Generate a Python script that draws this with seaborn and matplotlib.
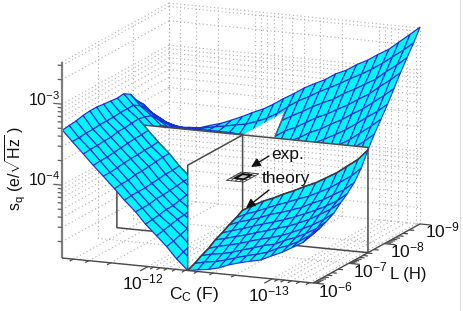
import numpy as np
import matplotlib
matplotlib.use("Agg")
import matplotlib.pyplot as plt
import seaborn as sns
from matplotlib.path import Path
from mpl_toolkits.mplot3d import proj3d
from mpl_toolkits.mplot3d.art3d import Line3DCollection, Poly3DCollection

# ---------- data (all log10) ----------
log_Cc = [-11.31, -11.39, -11.48, -11.56, -11.64, -11.73, -11.81, -11.90, -11.98, -12.07, -12.15, -12.23, -12.32,
          -12.40, -12.49, -12.57, -12.65, -12.74, -12.82, -12.91, -12.99, -13.08, -13.16, -13.25, -13.33]
log_L = [-6.00, -6.19, -6.385, -6.58, -6.77, -6.96, -7.155, -7.35, -7.54,
         -7.72, -7.905, -8.09, -8.27, -8.45, -8.635, -8.82, -9.00]
log_sq = [
 [-3.32,-3.45,-3.59,-3.72,-3.84,-3.98,-4.11,-4.24,-4.38,-4.51,-4.63,-4.77,-4.90,-4.88,-4.86,-4.83,-4.78,-4.74,-4.71,-4.68,-4.62,-4.56,-4.49,-4.41,-4.30],
 [-3.31,-3.45,-3.58,-3.71,-3.84,-3.97,-4.10,-4.24,-4.37,-4.49,-4.61,-4.73,-4.86,-4.83,-4.81,-4.78,-4.74,-4.70,-4.67,-4.63,-4.57,-4.52,-4.46,-4.37,-4.27],
 [-3.30,-3.44,-3.58,-3.71,-3.83,-3.97,-4.10,-4.24,-4.36,-4.47,-4.58,-4.70,-4.81,-4.78,-4.76,-4.73,-4.69,-4.65,-4.61,-4.58,-4.52,-4.47,-4.41,-4.33,-4.23],
 [-3.28,-3.44,-3.57,-3.70,-3.82,-3.95,-4.10,-4.22,-4.34,-4.45,-4.55,-4.66,-4.77,-4.73,-4.70,-4.67,-4.63,-4.59,-4.56,-4.52,-4.47,-4.41,-4.35,-4.27,-4.18],
 [-3.27,-3.43,-3.57,-3.69,-3.81,-3.95,-4.09,-4.22,-4.34,-4.44,-4.53,-4.64,-4.71,-4.68,-4.64,-4.61,-4.57,-4.53,-4.49,-4.45,-4.40,-4.34,-4.27,-4.19,-4.10],
 [-3.27,-3.43,-3.55,-3.68,-3.81,-3.94,-4.08,-4.21,-4.32,-4.42,-4.51,-4.59,-4.67,-4.63,-4.59,-4.55,-4.51,-4.47,-4.43,-4.38,-4.33,-4.27,-4.21,-4.13,-4.03],
 [-3.28,-3.43,-3.55,-3.67,-3.80,-3.93,-4.07,-4.20,-4.30,-4.39,-4.47,-4.55,-4.62,-4.57,-4.53,-4.49,-4.44,-4.40,-4.36,-4.31,-4.25,-4.19,-4.12,-4.04,-3.94],
 [-3.29,-3.42,-3.54,-3.67,-3.80,-3.92,-4.07,-4.19,-4.30,-4.38,-4.46,-4.53,-4.58,-4.52,-4.47,-4.42,-4.37,-4.32,-4.27,-4.22,-4.16,-4.09,-4.01,-3.92,-3.81],
 [-3.30,-3.42,-3.53,-3.66,-3.79,-3.92,-4.06,-4.19,-4.28,-4.37,-4.43,-4.49,-4.53,-4.46,-4.39,-4.34,-4.28,-4.22,-4.16,-4.10,-4.03,-3.95,-3.86,-3.76,-3.63],
 [-3.29,-3.42,-3.55,-3.67,-3.79,-3.90,-4.03,-4.14,-4.23,-4.30,-4.35,-4.39,-4.40,-4.32,-4.26,-4.20,-4.13,-4.06,-4.00,-3.93,-3.85,-3.77,-3.68,-3.58,-3.48],
 [-3.34,-3.47,-3.58,-3.69,-3.79,-3.90,-4.00,-4.09,-4.17,-4.23,-4.26,-4.28,-4.26,-4.19,-4.12,-4.05,-3.99,-3.93,-3.86,-3.79,-3.71,-3.63,-3.54,-3.44,-3.34],
 [-3.46,-3.56,-3.67,-3.75,-3.82,-3.90,-3.97,-4.04,-4.10,-4.14,-4.15,-4.15,-4.11,-4.03,-3.97,-3.90,-3.83,-3.77,-3.71,-3.64,-3.57,-3.48,-3.39,-3.30,-3.20],
 [-3.55,-3.66,-3.75,-3.81,-3.85,-3.90,-3.95,-4.00,-4.04,-4.07,-4.06,-4.04,-3.97,-3.90,-3.83,-3.77,-3.70,-3.64,-3.57,-3.50,-3.42,-3.34,-3.25,-3.15,-3.05],
 [-3.68,-3.75,-3.83,-3.86,-3.88,-3.91,-3.93,-3.95,-3.98,-3.98,-3.96,-3.92,-3.84,-3.76,-3.70,-3.63,-3.56,-3.50,-3.43,-3.36,-3.28,-3.20,-3.10,-3.00,-2.90],
 [-3.79,-3.85,-3.89,-3.91,-3.90,-3.90,-3.90,-3.90,-3.91,-3.90,-3.86,-3.79,-3.69,-3.62,-3.55,-3.48,-3.42,-3.36,-3.28,-3.21,-3.14,-3.06,-2.96,-2.86,-2.76],
 [-3.89,-3.93,-3.95,-3.95,-3.93,-3.90,-3.88,-3.85,-3.83,-3.78,-3.73,-3.66,-3.56,-3.48,-3.41,-3.34,-3.28,-3.21,-3.14,-3.07,-3.00,-2.91,-2.82,-2.72,-2.62],
 [-3.99,-4.00,-3.99,-3.98,-3.94,-3.90,-3.85,-3.79,-3.73,-3.67,-3.60,-3.52,-3.44,-3.36,-3.29,-3.23,-3.15,-3.09,-3.01,-2.94,-2.86,-2.78,-2.68,-2.57,-2.47],
]
exp_log_Cc = [-12.39, -12.355, -12.32, -12.285, -12.25]
exp_log_L = [-7.33, -7.435, -7.54, -7.645, -7.75]
exp_log_sq = [[-4.12, -4.12, -4.12, -4.12, -4.12],
              [-4.12, -4.11, -4.11, -4.11, -4.12],
              [-4.12, -4.11, -4.11, -4.11, -4.12],
              [-4.12, -4.11, -4.11, -4.11, -4.12],
              [-4.12, -4.12, -4.12, -4.12, -4.12]]
slice_Cc = -12.32       # plane of constant Cc
slice_L = -7.54         # plane of constant L
slice_sq = -3.60        # height of both planes
Cc_major = [-12, -13]
L_major = [-6, -7, -8, -9]
sq_major = [-3, -4]
Cc_lim = (-11.307, -13.33)
L_lim = (-6.0, -9.0)
sq_lim = (-4.90, -2.48)
mult = [2, 3, 4, 5, 6, 7, 8, 9]

# ---------- style ----------
sns.set_theme(style="white")
plt.rcParams["font.family"] = ["Liberation Sans", "DejaVu Sans"]
plt.rcParams["mathtext.fontset"] = "custom"
plt.rcParams["mathtext.rm"] = "Liberation Sans"
plt.rcParams["mathtext.it"] = "Liberation Sans"
plt.rcParams["mathtext.bf"] = "Liberation Sans"
plt.rcParams["mathtext.default"] = "regular"

CYAN, MESH, DOT = "#00f6ff", "#1a2fcf", "#aeaeae"
DARK = "#4a4a4a"
W, H = 463, 311

fig = plt.figure(figsize=(W / 100, H / 100), dpi=100, facecolor="white")
ax = fig.add_axes([-0.1, -0.3, 1.2, 1.6], projection="3d", computed_zorder=False)
ax.set_proj_type("ortho")
ax.view_init(elev=13.55, azim=-67)
ax.set_xlim(*Cc_lim, view_margin=0)
ax.set_ylim(*L_lim, view_margin=0)
ax.set_zlim(*sq_lim, view_margin=0)
ax.set_axis_off()
ax.patch.set_alpha(0)
aspect = (272.8, 273.7, 201.6)


def screen(x, y, z):
    X, Y, _ = proj3d.proj_transform(x, y, z, ax.get_proj())
    return ax.transData.transform((X, Y))


# fit the projected box on the figure
ax.set_box_aspect(aspect, zoom=1.0)
ax.apply_aspect()
p0 = screen(Cc_lim[0], L_lim[0], sq_lim[0])
p1 = screen(Cc_lim[1], L_lim[1], sq_lim[1])
ax.set_box_aspect(aspect, zoom=(420 - 62) / (p1[0] - p0[0]))
ax.apply_aspect()
p0 = screen(Cc_lim[0], L_lim[0], sq_lim[0])
pos = ax.get_position(original=True)
ax.set_position([pos.x0 + (62 - p0[0]) / W, pos.y0 + ((H - 258) - p0[1]) / H, pos.width, pos.height])
ax.apply_aspect()


def data_path(verts):
    pts = []
    for v in verts:
        X, Y, _ = proj3d.proj_transform(*v, ax.get_proj())
        pts.append((X, Y))
    pts.append(pts[0])
    return Path(pts, closed=True)


# ---------- tick positions ----------
def minor_and_major(decades, lo, hi):
    out = []
    for d in decades:
        for m in [1] + mult:
            v = d + np.log10(m)
            if lo - 1e-9 <= v <= hi + 1e-9:
                out.append(v)
    return out


Cc_ticks = minor_and_major([-14, -13, -12], Cc_lim[1], Cc_lim[0])
L_ticks = minor_and_major([-9, -8, -7, -6], L_lim[1], L_lim[0])
sq_ticks = minor_and_major([-5, -4, -3], sq_lim[0], sq_lim[1])

c0, c1 = Cc_lim
l0, l1 = L_lim
z0, z1 = sq_lim
segs = []
for c in Cc_ticks:
    segs.append([(c, l1, z0), (c, l1, z1)])
    segs.append([(c, l0, z0), (c, l1, z0)])
for z in sq_ticks:
    segs.append([(c0, l1, z), (c1, l1, z)])
    segs.append([(c0, l0, z), (c0, l1, z)])
for l in L_major:
    segs.append([(c0, l, z0), (c0, l, z1)])
    segs.append([(c0, l, z0), (c1, l, z0)])
segs += [[(c0, l0, z1), (c0, l1, z1)], [(c0, l1, z1), (c1, l1, z1)],
         [(c0, l1, z0), (c0, l1, z1)], [(c1, l1, z0), (c1, l1, z1)]]


def grid_layer(zorder, clip=None):
    col = Line3DCollection(segs, colors=DOT, linewidths=0.8, linestyles=[(0, (1, 2.4))], zorder=zorder)
    ax.add_collection3d(col, autolim=False)
    if clip is not None:
        col.set_clip_path(clip, ax.transData)
    return col


def plane(verts, zorder):
    col = Poly3DCollection([verts], facecolors="white", edgecolors="none", zorder=zorder)
    ax.add_collection3d(col, autolim=False)


def edge(pts, zorder, color=DARK, lw=1.1):
    xs, ys, zs = zip(*pts)
    ax.plot(xs, ys, zs, color=color, lw=lw, zorder=zorder, solid_capstyle="butt")


def surface(r0, r1, k0, k1, zorder):
    ax.plot_surface(CC[r0:r1, k0:k1], LL[r0:r1, k0:k1], SQ[r0:r1, k0:k1], rstride=1, cstride=1,
                    color=CYAN, edgecolor=MESH, linewidth=0.85, shade=False, zorder=zorder)


CC, LL = np.meshgrid(log_Cc, log_L)
SQ = np.array(log_sq)
ir = log_L.index(slice_L)
ic = log_Cc.index(slice_Cc)
n_r, n_c = SQ.shape
cs, ls, zs = slice_Cc, slice_L, slice_sq

# background grid
grid_layer(1)

# back part of the surface and planes
surface(ir, n_r, 0, ic + 1, 3)
plane([(cs, ls, z0), (cs, -8.73, z0), (cs, -8.73, zs), (cs, ls, zs)], 4)
surface(ir, n_r, ic, n_c, 5)
edge([(cs, log_L[i], SQ[i, ic]) for i in range(ir, ir + 7)] + [(cs, -8.73, zs)], 5.5, color="#2f6f6a", lw=0.9)

# plane of constant L
plane([(c0, ls, z0), (c1, ls, z0), (c1, ls, zs), (c0, ls, zs)], 6)
grid_layer(7, data_path([(c0, ls, z0), (-11.87, ls, z0), (cs, l0, z0), (cs, ls, z0), (c1, ls, z0), (c1, ls, zs),
                         (-12.58, ls, zs), (cs, -8.45, -3.85), (cs, -8.73, zs), (cs, ls, zs), (c0, ls, zs)]))
edge([(c0, ls, zs), (c0, ls, z0), (c1, ls, z0), (c1, ls, zs), (c0, ls, zs)], 8)

# front left of the surface
surface(0, ir + 1, 0, ic + 1, 9)
edge([(log_Cc[k], ls, SQ[ir, k]) for k in range(2, ic + 1)], 9.5, color="#2f6f6a", lw=0.9)

# plane of constant Cc
plane([(cs, l0, z0), (cs, ls, z0), (cs, ls, zs), (cs, l0, zs)], 10)
grid_layer(11, data_path([(cs, l0, z0), (cs, ls, z0), (cs, ls, zs), (cs, l0, zs)]))
edge([(cs, l0, z0), (cs, l0, zs), (cs, ls, zs), (cs, ls, z0)], 12)

# measured point cloud
EC, EL = np.meshgrid(exp_log_Cc, exp_log_L)
ES = np.array(exp_log_sq)
ax.plot_wireframe(EC, EL, ES, rstride=1, cstride=1, color="#333333", linewidth=0.6, zorder=13)
ax.plot_surface(EC[1:4, 1:4], EL[1:4, 1:4], ES[1:4, 1:4], rstride=2, cstride=2, color="#cccccc",
                edgecolor="#111111", linewidth=1.3, shade=False, zorder=14)

# front right of the surface
surface(0, ir + 1, ic, n_c, 15)
edge([(cs, log_L[i], SQ[i, ic]) for i in range(0, ir + 1)]
     + [(log_Cc[k], ls, SQ[ir, k]) for k in range(ic, n_c)], 16, color="#3a3a3a", lw=1.1)

# axes
edge([(c0, l0, z0), (c0, l0, z1)], 20, color="#808080", lw=1.6)
edge([(c0, l0, z0), (c1, l0, z0)], 20, color=DARK, lw=1.0)
edge([(c1, l0, z0), (c1, l1, z0)], 20, color=DARK, lw=1.0)
for z in sq_ticks:
    d = 0.07 if round(z, 6) in sq_major else 0.035
    edge([(c0, l0, z), (c0 + d, l0, z)], 20, color="#606060", lw=0.9)
for c in Cc_ticks:
    d = 0.22 if round(c, 6) in Cc_major else 0.10
    edge([(c, l0, z0), (c, l0 + d, z0)], 20, color=DARK, lw=0.9)
for l in L_ticks:
    d = 0.09 if round(l, 6) in L_major else 0.04
    edge([(c1, l, z0), (c1 - d, l, z0)], 20, color=DARK, lw=0.9)


# ---------- text ----------
def label(x, y, s, size=12.5, **kw):
    kw.setdefault("ha", "center")
    kw.setdefault("va", "center")
    fig.text(x / W, 1 - y / H, s, fontsize=size, color="#111111", **kw)


label(60, 100, r"$10^{-3}$", ha="right", size=11.5)
label(60, 180, r"$10^{-4}$", ha="right", size=11.5)
label(143, 282, r"$10^{-12}$")
label(269, 294, r"$10^{-13}$")
label(335, 290, r"$10^{-6}$")
label(370, 270, r"$10^{-7}$")
label(407, 250, r"$10^{-8}$")
label(442, 230, r"$10^{-9}$")
label(194, 295, r"$C_{C}$ (F)")
label(408, 275, "L (H)", size=12)
label(16, 168, r"$s_{q}$ (e/$\sqrt{Hz}$ )", rotation=90, size=11.5)
label(288, 155, "exp.")
label(286, 178, "theory")

for tail, tip in [((269, 156), (251, 167)), ((269, 190), (246, 208))]:
    ax.annotate("", xy=(tip[0], H - tip[1]), xytext=(tail[0], H - tail[1]), xycoords="figure pixels",
                textcoords="figure pixels", zorder=30,
                arrowprops=dict(arrowstyle="-|>,head_length=0.45,head_width=0.22", color="#111111",
                                lw=1.0, shrinkA=0, shrinkB=0))

fig.add_artist(plt.Line2D([459.5 / W, 459.5 / W], [0, 1], color="#dcdcdc", lw=0.8))
fig.savefig("out.png", dpi=100, facecolor="white")
